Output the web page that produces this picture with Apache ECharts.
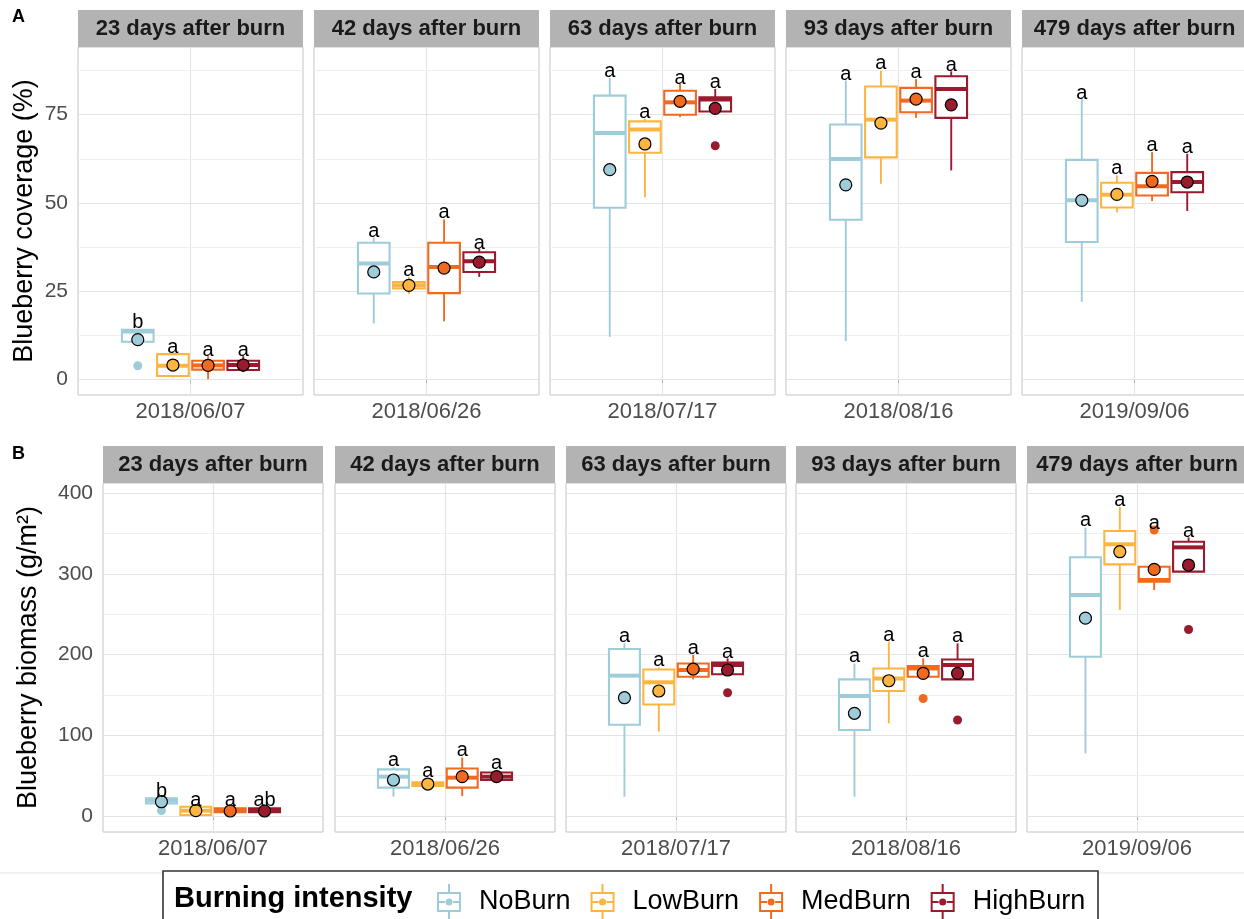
<!DOCTYPE html>
<html>
<head>
<meta charset="utf-8">
<title>Blueberry coverage and biomass by burning intensity</title>
<script src="https://cdn.jsdelivr.net/npm/echarts@6.0.0/dist/echarts.min.js"></script>
<style>
  html, body { margin: 0; padding: 0; background: #fff; }
  #chart { width: 1244px; height: 919px; }
</style>
</head>
<body>
<div id="chart"></div>
<script>
const groups = ['NoBurn', 'LowBurn', 'MedBurn', 'HighBurn'];
const colors = ['#9FCCD9', '#FDB541', '#F26A1E', '#9A1A2E'];
const facets = ['23 days after burn', '42 days after burn', '63 days after burn', '93 days after burn', '479 days after burn'];
const dates = ['2018/06/07', '2018/06/26', '2018/07/17', '2018/08/16', '2019/09/06'];

// coverage (%): [low whisker, q1, median, q3, high whisker], one row per facet
const coverNoBurn = [[10.6, 10.6, 13.5, 14.0, 14.2], [15.8, 24.3, 32.8, 38.7, 40.1], [12.0, 48.6, 69.8, 80.4, 85.4], [10.8, 45.2, 62.4, 72.2, 84.7], [21.9, 38.9, 50.7, 62.2, 79.6]];
const coverLowBurn = [[0.5, 0.9, 3.8, 7.1, 7.6], [24.1, 25.7, 26.6, 27.5, 29.0], [51.6, 64.2, 70.8, 73.1, 73.8], [55.4, 62.9, 73.6, 83.0, 87.5], [47.3, 48.7, 52.3, 55.7, 57.8]];
const coverMedBurn = [[0.0, 2.7, 3.9, 5.2, 6.5], [16.4, 24.4, 31.8, 38.7, 45.3], [74.3, 75.0, 78.5, 81.8, 83.7], [74.1, 75.7, 79.0, 82.6, 85.1], [50.5, 52.1, 54.7, 58.5, 64.4]];
const coverHighBurn = [[2.0, 2.6, 4.0, 5.2, 6.5], [29.0, 30.4, 33.4, 36.0, 37.0], [75.9, 75.9, 79.3, 79.9, 82.3], [59.2, 74.1, 82.3, 85.9, 87.3], [47.7, 53.0, 55.9, 58.7, 63.9]];
// means per facet: NoBurn, LowBurn, MedBurn, HighBurn
const coverMeans = [[11.2, 4.0, 3.9, 4.0], [30.4, 26.6, 31.5, 33.2], [59.4, 66.7, 78.8, 76.8], [55.1, 72.6, 79.4, 77.8], [50.7, 52.4, 56.1, 55.9]];
// outliers: [facet, group, value]
const coverOutliers = [[0, 0, 3.8], [2, 3, 66.2]];
const coverLetters = [['b', 'a', 'a', 'a'], ['a', 'a', 'a', 'a'], ['a', 'a', 'a', 'a'], ['a', 'a', 'a', 'a'], ['a', 'a', 'a', 'a']];
const coverLetterY = [[16.2, 9.1, 8.2, 8.2], [41.9, 30.7, 47.2, 38.6], [87.3, 75.5, 85.4, 84.0], [86.5, 89.4, 87.0, 88.9], [81.1, 59.8, 66.4, 65.8]];

// biomass (g/m2)
const bioNoBurn = [[15.7, 15.7, 19.6, 21.9, 21.9], [23.9, 35.1, 48.7, 57.8, 60.3], [23.9, 113.1, 173.8, 206.8, 213.8], [23.9, 106.5, 148.6, 169.2, 188.9], [77.6, 197.3, 273.7, 320.4, 357.0]];
const bioLowBurn = [[1.2, 1.2, 6.6, 11.5, 11.5], [33.0, 37.2, 39.5, 41.6, 47.0], [104.4, 138.1, 165.6, 181.5, 184.0], [114.8, 154.8, 170.3, 182.7, 215.9], [255.1, 311.6, 336.5, 353.0, 382.9]];
const bioMedBurn = [[4.6, 4.6, 7.0, 9.5, 9.5], [24.8, 35.1, 47.5, 58.8, 72.4], [169.2, 172.5, 180.8, 188.9, 199.4], [172.5, 172.5, 182.7, 185.8, 195.3], [279.9, 290.2, 292.3, 308.7, 308.7]];
const bioHighBurn = [[4.6, 4.6, 7.0, 9.5, 9.5], [42.3, 44.6, 48.7, 53.9, 57.0], [175.5, 175.5, 187.0, 190.1, 195.3], [169.2, 169.2, 187.0, 193.8, 213.8], [302.6, 302.6, 332.7, 339.7, 345.0]];
const bioMeans = [[17.7, 6.6, 6.2, 6.2], [44.6, 39.6, 48.7, 48.7], [146.5, 154.8, 182.0, 180.8], [127.2, 167.5, 176.7, 176.7], [245.0, 327.3, 305.4, 310.8]];
const bioOutliers = [[0, 0, 6.6], [2, 3, 152.7], [3, 2, 145.5], [3, 3, 118.9], [4, 2, 354.2], [4, 3, 231.0]];
const bioLetters = [['b', 'a', 'a', 'ab'], ['a', 'a', 'a', 'a'], ['a', 'a', 'a', 'a'], ['a', 'a', 'a', 'a'], ['a', 'a', 'a', 'a']];
const bioLetterY = [[30.0, 19.8, 19.8, 19.8], [68.5, 54.9, 80.9, 65.3], [222, 192, 207, 203], [197, 223, 204.3, 222], [365.5, 391.3, 362.5, 352.9]];

const coverTicks = [0, 25, 50, 75];
const coverMinor = [12.5, 37.5, 62.5, 87.5];
const bioTicks = [0, 100, 200, 300, 400];
const bioMinor = [50, 150, 250, 350];

const FONT = '"Liberation Sans", Arial, Helvetica, sans-serif';
const dodge = [-0.28125, -0.09375, 0.09375, 0.28125];
const BOX_W = 0.16875;

const rows = [
  { tag: 'A', tagY: 17, boxes: [coverNoBurn, coverLowBurn, coverMedBurn, coverHighBurn], means: coverMeans,
    outliers: coverOutliers, letters: coverLetters, letterY: coverLetterY, ticks: coverTicks, minor: coverMinor,
    min: -4.5, max: 94.2, top: 47, height: 348, lefts: [78, 314, 550, 786, 1022], width: 225,
    title: 'Blueberry coverage (%)', nameGap: 40 },
  { tag: 'B', tagY: 454, boxes: [bioNoBurn, bioLowBurn, bioMedBurn, bioHighBurn], means: bioMeans,
    outliers: bioOutliers, letters: bioLetters, letterY: bioLetterY, ticks: bioTicks, minor: bioMinor,
    min: -19.8, max: 412.4, top: 483, height: 349, lefts: [103, 335, 566, 796, 1027], width: 220,
    title: 'Blueberry biomass (g/m\u00B2)', nameGap: 61 }
];

function renderBox(params, api) {
  const x = api.value(0);
  const lo = api.coord([x, api.value(1)]);
  const q1 = api.coord([x, api.value(2)]);
  const med = api.coord([x, api.value(3)]);
  const q3 = api.coord([x, api.value(4)]);
  const hi = api.coord([x, api.value(5)]);
  const half = api.size([BOX_W, 0])[0] / 2;
  const color = api.visual('color');
  return {
    type: 'group',
    children: [
      { type: 'line', shape: { x1: lo[0], y1: lo[1], x2: q1[0], y2: q1[1] }, style: { stroke: color, lineWidth: 1.9 } },
      { type: 'line', shape: { x1: q3[0], y1: q3[1], x2: hi[0], y2: hi[1] }, style: { stroke: color, lineWidth: 1.9 } },
      { type: 'rect', shape: { x: q1[0] - half, y: q3[1], width: half * 2, height: q1[1] - q3[1] },
        style: { fill: '#fff', stroke: color, lineWidth: 2.1 } },
      { type: 'line', shape: { x1: med[0] - half, y1: med[1], x2: med[0] + half, y2: med[1] },
        style: { stroke: color, lineWidth: 4 } }
    ]
  };
}

function renderLetter(params, api) {
  const p = api.coord([api.value(0), api.value(1)]);
  return {
    type: 'text', x: p[0], y: p[1],
    style: { text: String(api.value(2)), fill: '#000', font: '20px ' + FONT, align: 'center', verticalAlign: 'middle' }
  };
}

const grids = [], xAxes = [], yAxes = [], series = [], graphics = [];

rows.forEach((row, r) => {
  graphics.push({ type: 'text', left: 12, top: row.tagY - 9,
    style: { text: row.tag, font: 'bold 18px ' + FONT, fill: '#000' } });
  facets.forEach((facet, f) => {
    const k = grids.length;
    const left = row.lefts[f];
    grids.push({ left: left, top: row.top, width: row.width, height: row.height, show: true,
      borderColor: '#C4C4C4', borderWidth: 1, backgroundColor: '#fff', outerBoundsMode: 'none' });
    graphics.push({ type: 'rect', shape: { x: left, y: row.top - 37, width: row.width, height: 37 },
      style: { fill: '#B3B3B3' }, silent: true });
    graphics.push({ type: 'text', x: left + row.width / 2, y: row.top - 18, silent: true,
      style: { text: facet, font: 'bold 22px ' + FONT, fill: '#1A1A1A', align: 'center', verticalAlign: 'middle' } });

    xAxes.push({
      type: 'value', gridIndex: k, min: -0.6, max: 0.6, interval: 0.6,
      axisLine: { show: false },
      splitLine: { show: true, lineStyle: { color: '#E4E4E4', width: 1.2 } },
      axisTick: { show: true, customValues: [0], length: 4, lineStyle: { color: '#B3B3B3' } },
      axisLabel: { customValues: [0], formatter: () => dates[f], fontSize: 22, color: '#4D4D4D',
        fontFamily: FONT, margin: 6 }
    });
    yAxes.push({
      type: 'value', gridIndex: k, min: row.min, max: row.max,
      axisLine: { show: false }, splitLine: { show: false },
      axisTick: { show: f === 0, customValues: row.ticks, length: 4, lineStyle: { color: '#B3B3B3' } },
      axisLabel: { show: f === 0, customValues: row.ticks, fontSize: 21, color: '#4D4D4D', fontFamily: FONT, margin: 10 },
      name: f === 0 ? row.title : '', nameLocation: 'middle', nameGap: row.nameGap,
      nameTextStyle: { fontSize: 27, color: '#000', fontFamily: FONT }
    });

    // horizontal grid lines
    const lines = row.ticks.map(v => ({ yAxis: v, lineStyle: { color: '#E4E4E4', width: 1.2, type: 'solid' } }))
      .concat(row.minor.map(v => ({ yAxis: v, lineStyle: { color: '#EFEFEF', width: 1, type: 'solid' } })));
    series.push({
      type: 'line', xAxisIndex: k, yAxisIndex: k, data: [], silent: true, z: 1,
      markLine: { silent: true, symbol: ['none', 'none'], label: { show: false }, animation: false, z: 1, data: lines }
    });

    groups.forEach((g, gi) => {
      const b = row.boxes[gi][f];
      series.push({
        name: g, type: 'custom', xAxisIndex: k, yAxisIndex: k, z: 2, silent: true,
        itemStyle: { color: colors[gi] }, renderItem: renderBox,
        data: [[dodge[gi]].concat(b)]
      });
      const outs = row.outliers.filter(o => o[0] === f && o[1] === gi).map(o => [dodge[gi], o[2]]);
      if (outs.length) {
        series.push({
          name: g, type: 'scatter', xAxisIndex: k, yAxisIndex: k, z: 3, silent: true,
          symbolSize: 9, itemStyle: { color: colors[gi], opacity: 1 }, data: outs
        });
      }
      series.push({
        name: g, type: 'scatter', xAxisIndex: k, yAxisIndex: k, z: 4, silent: true,
        symbolSize: 12, itemStyle: { color: colors[gi], borderColor: '#000', borderWidth: 1.2, opacity: 1 },
        data: [[dodge[gi], row.means[f][gi]]]
      });
    });

    series.push({
      type: 'custom', xAxisIndex: k, yAxisIndex: k, z: 5, silent: true, renderItem: renderLetter,
      data: groups.map((g, gi) => [dodge[gi], row.letterY[f][gi], row.letters[f][gi]])
    });
  });
});

// legend frame and title
graphics.unshift({ type: 'line', shape: { x1: 0, y1: 873, x2: 1244, y2: 873 }, style: { stroke: '#E3E3E3', lineWidth: 1 }, silent: true });
graphics.push({ type: 'rect', shape: { x: 163, y: 871, width: 935, height: 70 },
  style: { fill: '#fff', stroke: '#333', lineWidth: 1.6 }, silent: true });
graphics.push({ type: 'text', x: 174, y: 899, silent: true,
  style: { text: 'Burning intensity', font: 'bold 29px ' + FONT, fill: '#000', verticalAlign: 'middle' } });

const legendIcon = 'path://M0,8L24,8L24,28L0,28Z M2,10L2,26L22,26L22,10Z M2,17L8,17L8,19L2,19Z M16,17L22,17L22,19L16,19Z ' +
  'M11,0L13,0L13,8L11,8Z M11,28L13,28L13,36L11,36Z M8.5,18a3.5,3.5 0 1,0 7,0a3.5,3.5 0 1,0 -7,0Z';

const chart = echarts.init(document.getElementById('chart'), null, { renderer: 'canvas' });
chart.setOption({
  animation: false,
  backgroundColor: '#fff',
  textStyle: { fontFamily: FONT },
  grid: grids,
  xAxis: xAxes,
  yAxis: yAxes,
  graphic: { elements: graphics },
  legend: {
    data: groups, left: 432, top: 879, itemWidth: 24, itemHeight: 36, itemGap: 20, icon: legendIcon,
    selectedMode: false, itemStyle: { borderWidth: 0 },
    textStyle: { fontSize: 27, color: '#000', fontFamily: FONT, padding: [0, 0, 0, 13] }, z: 10
  },
  series: series
});
</script>
</body>
</html>
